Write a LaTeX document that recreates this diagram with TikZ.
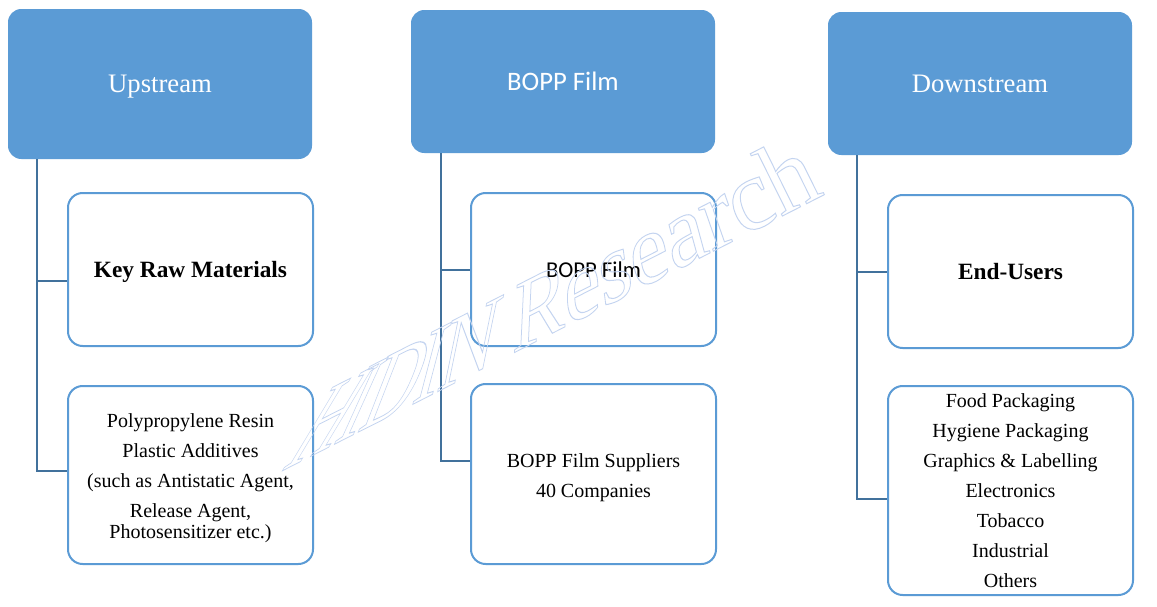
\documentclass[tikz,border=0pt]{standalone}
\usepackage{fontspec}
\setmainfont{Liberation Serif}
\newfontfamily\calfont{Carlito}
\usetikzlibrary{calc}
\definecolor{hdr}{RGB}{91,155,213}
\definecolor{conncol}{RGB}{65,113,156}
\definecolor{wmcol}{RGB}{196,212,240}
\newlength\wmw
\newcommand\wmfont{\fontsize{62}{64}\selectfont}
\newcommand\wmdef[2]{\settowidth\wmw{\wmfont #2}\expandafter\xdef\csname wmpos#1\endcsname{\the\wmw}}
\tikzset{
  hdrbox/.style={rectangle, rounded corners=10pt, fill=hdr, draw=none, text=white,
    font=\fontsize{20}{24}\selectfont, minimum width=228pt, inner sep=0pt, text depth=0pt},
  subbox/.style={rectangle, rounded corners=11pt, draw=hdr, line width=1.5pt, fill=white,
    minimum width=183.75pt, inner sep=0pt, align=center, text=black,
    font=\fontsize{15}{22.5}\selectfont, text depth=0pt},
  boldtxt/.style={font=\fontsize{17.5}{21}\selectfont\bfseries},
  conn/.style={draw=conncol, line width=1.5pt},
  wm/.style={text=wmcol, inner sep=0pt, font=\wmfont}
}
\begin{document}
\wmdef{1}{}%
\wmdef{2}{H}%
\wmdef{3}{HI}%
\wmdef{4}{HID}%
\wmdef{5}{HIDI}%
\wmdef{6}{HIDIN~}%
\wmdef{7}{HIDIN~R}%
\wmdef{8}{HIDIN~Re}%
\wmdef{9}{HIDIN~Res}%
\wmdef{10}{HIDIN~Rese}%
\wmdef{11}{HIDIN~Resea}%
\wmdef{12}{HIDIN~Resear}%
\wmdef{13}{HIDIN~Researc}%
\wmdef{total}{HIDIN~Research}%
\begin{tikzpicture}[x=0.75pt, y=-0.75pt]
\useasboundingbox (0,0) rectangle (1157,607);
\fill[white] (0,0) rectangle (1157,607);

% headers
\node[hdrbox, minimum height=112.5pt] (h1) at (160,84) {Upstream};
\node[hdrbox, minimum height=107.25pt] (h2) at (563,81.5) {\calfont BOPP Film};
\node[hdrbox, minimum height=107.25pt] (h3) at (980,83.5) {Downstream};

% column 1
\node[subbox, boldtxt, minimum height=114.75pt, text height=11.25pt] (a1) at (190.5,269.5) {Key Raw Materials};
\node[subbox, minimum height=133.5pt, text height=95.5pt] (a2) at (190.5,475) {Polypropylene Resin\\Plastic Additives\\(such as Antistatic Agent,\\Release Agent,\\[-6.5pt]Photosensitizer etc.)};

% column 2
\node[subbox, minimum height=114.75pt, font=\calfont\fontsize{17}{20}\selectfont] (b1) at (593.5,269.5) {BOPP Film};
\node[subbox, minimum height=135pt, text height=34.5pt] (b2) at (593.5,474) {BOPP Film Suppliers\\40 Companies};

% column 3
\node[subbox, boldtxt, minimum height=114.75pt] (c1) at (1010.5,271.5) {End-Users};
\node[subbox, minimum height=156.75pt] (c2) at (1010.5,490.5) {Food Packaging\\Hygiene Packaging\\Graphics \& Labelling\\Electronics\\Tobacco\\Industrial\\Others};

% connectors
\draw[conn] ($(h1.south west)+(29,0)$) |- ($(a1.west)+(0,11.5)$);
\draw[conn] ($(h1.south west)+(29,0)$) |- ($(a2.west)+(0,-4)$);
\draw[conn] ($(h2.south west)+(30,0)$) |- ($(b1.west)+(0,0.5)$);
\draw[conn] ($(h2.south west)+(30,0)$) |- ($(b2.west)+(0,-13)$);
\draw[conn] ($(h3.south west)+(29,0)$) |- ($(c1.west)+(0,0)$);
\draw[conn] ($(h3.south west)+(29,0)$) |- ($(c2.west)+(0,8.5)$);

% watermark (outlined letters, fanning perspective)
\coordinate (wmS) at (280,472);
\foreach \wch [count=\wi] in {H,I,D,I,N,R,e,s,e,a,r,c,h}{
  \edef\wpos{\csname wmpos\wi\endcsname}
  \edef\wtot{\csname wmpostotal\endcsname}
  \pgfmathsetmacro\wfrac{\wpos/\wtot}
  \pgfmathsetmacro\wmphi{32+62*\wfrac}
  \pgfmathsetmacro\wms{cos(\wmphi)/sin(\wmphi)}
  \pgfmathsetmacro\wk{0.953+0.29*\wfrac}
  \pgfmathsetmacro\wdist{\wpos*(0.953+0.145*\wfrac)}
  \node[wm, anchor=base west, rotate=27, xslant=\wms, scale=\wk] (wl\wi) at ($(wmS)+(27:\wdist pt)$)
    {\special{pdf:literal direct 1 Tr 0.6 w}\wch};
}
\end{tikzpicture}
\end{document}
